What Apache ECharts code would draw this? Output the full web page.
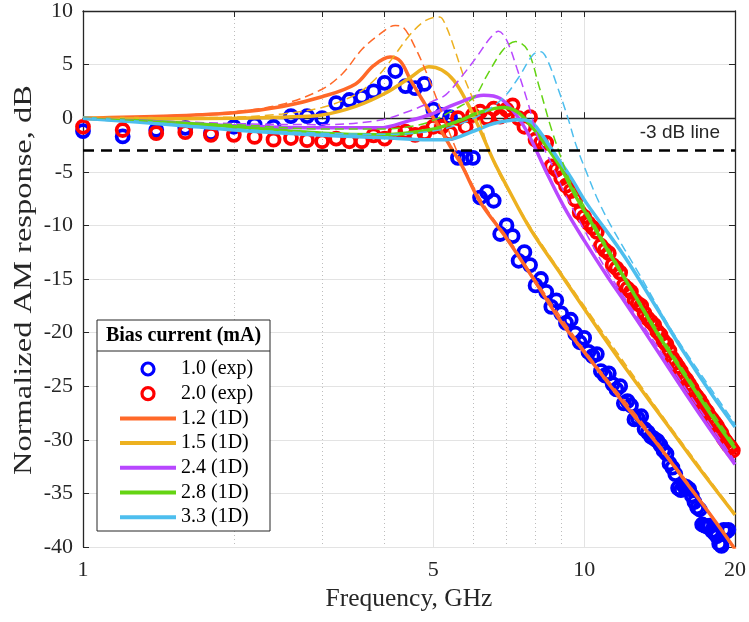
<!DOCTYPE html>
<html>
<head>
<meta charset="utf-8">
<script src="https://cdn.jsdelivr.net/npm/echarts@6/dist/echarts.min.js"></script>
<style>
  html, body { margin: 0; padding: 0; background: #fff; }
  #chart { width: 749px; height: 622px; }
</style>
</head>
<body>
<div id="chart"></div>
<script>
// measured points (GHz), same frequency grid for both bias currents
const expFreq = [
  1.0, 1.2, 1.4, 1.6, 1.8, 2.0, 2.2, 2.4, 2.6, 2.8,
  3.0, 3.2, 3.4, 3.6, 3.8, 4.0, 4.2, 4.4, 4.6, 4.8,
  5.0, 5.2, 5.4, 5.6, 5.8, 6.0, 6.2, 6.4, 6.6, 6.8,
  7.0, 7.2, 7.4, 7.6, 7.8, 8.0, 8.2, 8.4, 8.6, 8.8,
  9.0, 9.2, 9.4, 9.6, 9.8, 10.0, 10.2, 10.4, 10.6, 10.8,
  11.0, 11.2, 11.4, 11.6, 11.8, 12.0, 12.2, 12.4, 12.6, 12.8,
  13.0, 13.2, 13.4, 13.6, 13.8, 14.0, 14.2, 14.4, 14.6, 14.8,
  15.0, 15.2, 15.4, 15.6, 15.8, 16.0, 16.2, 16.4, 16.6, 16.8,
  17.0, 17.2, 17.4, 17.6, 17.8, 18.0, 18.2, 18.4, 18.6, 18.8,
  19.0, 19.2, 19.4, 19.6, 19.8
]
// 1.0 mA (exp)
const exp10 = [
  -1.2, -1.7, -1.1, -0.9, -1.4, -0.8, -0.6, -0.8, 0.2, 0.2,
  0.0, 1.4, 1.7, 2.0, 2.5, 3.3, 4.4, 3.0, 2.8, 3.2,
  0.8, 0.3, 0.1, -3.7, -3.7, -3.7, -7.4, -6.9, -7.7, -10.8,
  -10.0, -11.0, -13.3, -12.5, -13.7, -15.6, -15.0, -16.2, -17.6, -17.0,
  -18.2, -19.1, -18.8, -20.1, -20.9, -20.5, -21.8, -22.2, -22.0, -23.6,
  -24.0, -23.8, -24.8, -25.3, -25.0, -26.6, -26.4, -26.8, -28.1, -28.0,
  -27.8, -29.0, -29.3, -29.7, -29.9, -30.1, -30.5, -31.0, -31.3, -32.2,
  -32.6, -33.2, -34.5, -34.7, -34.3, -34.4, -34.6, -35.2, -35.8, -36.3,
  -36.5, -37.9, -38.0, -38.1, -38.0, -38.5, -38.7, -39.0, -39.7, -39.9,
  -38.4, -38.6, -38.4
]
// 2.0 mA (exp)
const exp20 = [
  -0.8, -1.1, -1.4, -1.3, -1.55, -1.55, -1.75, -2.0, -1.85, -2.05,
  -2.15, -1.9, -2.15, -2.15, -1.6, -1.9, -1.3, -1.25, -1.55, -1.4,
  -0.8, -0.8, -1.4, 0.0, -0.8, 0.3, 0.6, 0.0, 0.9, 0.15,
  0.8, 1.2, 0.0, -0.8, 0.1, -2.0, -2.3, -2.3, -4.5, -4.8,
  -5.6, -6.3, -6.8, -7.6, -8.8, -9.2, -9.8, -10.2, -10.6, -11.9,
  -12.3, -12.6, -13.7, -14.0, -14.4, -15.6, -15.9, -16.2, -17.0, -17.3,
  -17.5, -18.2, -18.7, -19.0, -19.3, -19.9, -20.2, -20.8, -21.1, -21.7,
  -22.4, -22.8, -23.2, -23.6, -24.1, -24.4, -24.8, -25.2, -25.7, -26.0,
  -26.3, -26.7, -27.1, -27.4, -27.8, -28.1, -28.4, -28.7, -29.1, -29.4,
  -29.9, -30.2, -30.5, -30.7, -31.0
]

// 1D model (solid)
const f12 = [1, 1.5, 2, 2.5, 3, 3.5, 3.8, 4.1, 4.3, 4.5, 4.8, 5.1, 5.4, 5.7, 6.2, 7, 8, 9, 10, 11, 12, 14, 16, 18, 20]
const m12 = [0, 0.2, 0.5, 1.1, 2.0, 3.2, 4.9, 5.7, 5.3, 3.6, 1.4, -0.6, -2.6, -4.4, -7.8, -11.2, -15.3, -19.0, -21.8, -24.3, -26.6, -30.4, -34.0, -37.2, -40.2]
const f15 = [1, 1.5, 2, 2.5, 3, 3.5, 4, 4.5, 4.9, 5.2, 5.5, 5.85, 6.2, 6.6, 7, 7.8, 9, 10.6, 12, 14.6, 17, 20]
const m15 = [0, -0.05, 0, 0.1, 0.3, 1.1, 2.3, 3.8, 4.8, 4.5, 3.5, 1.4, -1.1, -4.0, -6.3, -10.3, -14.6, -19.5, -23.1, -28.5, -32.7, -37.0]
const f24 = [1, 1.5, 2, 3, 3.9, 4.5, 4.9, 5.7, 6.3, 6.8, 7.35, 7.8, 8.4, 9.1, 10, 11.1, 12, 14, 16, 18, 20]
const m24 = [0, -0.4, -0.7, -0.9, -0.9, -0.2, 0.3, 1.55, 2.15, 1.85, 0.2, -1.8, -5.0, -8.2, -11.4, -14.7, -17.0, -21.7, -25.8, -29.3, -32.3]
const f28 = [1, 1.5, 2, 3, 3.9, 4.9, 5.7, 6.1, 6.9, 7.35, 7.8, 8.2, 8.95, 9.65, 10, 11.1, 12.5, 14.1, 16, 18, 20]
const m28 = [0, -0.4, -0.8, -1.4, -1.55, -1.1, -0.15, 0.45, 1.0, 0.6, -0.6, -1.9, -4.5, -7.4, -8.6, -12.2, -16.2, -20.3, -24.2, -27.8, -30.8]
const f33 = [1, 1.5, 2, 3, 3.9, 4.9, 5.3, 6.1, 6.6, 7.4, 7.8, 8.2, 8.7, 9.4, 10.1, 12, 14, 15.7, 18, 20]
const m33 = [0, -0.6, -1.1, -1.6, -1.8, -2.0, -2.0, -1.1, -0.5, -0.15, -0.3, -1.4, -3.2, -5.5, -7.9, -12.8, -17.8, -21.6, -25.8, -28.8]

// thin dashed curves (not in legend)
const d12f = [1, 1.5, 2, 2.5, 3, 3.3, 3.6, 3.9, 4.2, 4.35, 4.6, 4.9, 5.25, 5.6, 6.0, 6.5, 7, 8, 10, 14, 20]
const d12 = [0, 0.25, 0.6, 1.3, 2.7, 4.2, 6.4, 7.8, 8.65, 8.5, 6.6, 3.7, 0.0, -3.3, -6.3, -9.0, -11.0, -15.1, -21.6, -30.2, -40.1]
const d15f = [1, 2, 2.5, 3, 3.5, 3.8, 4.1, 4.46, 4.75, 5.0, 5.15, 5.3, 5.5, 5.75, 6.04, 6.45, 6.8, 7.5, 8, 10, 14.6, 20]
const d15 = [0, 0.1, 0.4, 1.0, 2.2, 3.5, 5.3, 7.6, 8.9, 9.4, 9.45, 8.6, 6.6, 3.9, 1.4, -2.9, -5.4, -8.8, -10.9, -17.5, -28.3, -36.9]
const d24f = [1, 2, 3, 3.9, 4.5, 5.0, 5.3, 5.7, 6.1, 6.5, 6.75, 7.0, 7.35, 7.75, 8.1, 8.5, 9.1, 10, 11.1, 14, 20]
const d24 = [0, -0.5, -0.6, -0.2, 0.7, 1.6, 2.2, 3.9, 5.7, 7.5, 8.1, 7.3, 4.6, 1.2, -1.9, -3.7, -6.8, -10.4, -14.2, -21.3, -32.0]
const d28f = [1, 2, 3, 4, 4.6, 5.0, 5.5, 6.04, 6.4, 6.9, 7.3, 7.7, 8.15, 8.55, 8.95, 9.4, 10, 11, 14, 20]
const d28 = [0, -0.6, -1.0, -1.0, -0.7, -0.2, 0.8, 2.0, 4.0, 6.4, 7.15, 6.4, 2.8, -0.6, -3.4, -6.0, -8.2, -11.6, -19.8, -30.5]
const d33f = [1, 2, 3, 4, 5, 5.6, 6.2, 6.9, 7.4, 7.9, 8.2, 8.45, 8.85, 9.27, 9.65, 10.1, 10.6, 11.3, 12.9, 15, 18, 20]
const d33 = [0, -1.0, -1.4, -1.5, -1.2, -0.6, 0.3, 1.9, 3.8, 5.9, 6.2, 5.4, 2.9, 0.1, -2.6, -5.0, -7.4, -10.0, -14.6, -19.9, -25.4, -28.5]

const majorTicks = [1, 5, 10, 20]
const minorTicks = [2, 3, 4, 6, 7, 8, 9]
const allTicks = [1, 2, 3, 4, 5, 6, 7, 8, 9, 10, 20]
const refLevel = -3

const serif = 'Liberation Serif'
const axisColor = '#262626'
const lineIcon = 'path://M0,0H56V4H0Z'

function pairs(xs, ys) {
  return xs.slice(0, ys.length).map((x, i) => [x, ys[i]])
}

function expSeries(name, f, v, color) {
  return {
    name: name,
    type: 'scatter',
    data: pairs(f, v),
    symbol: 'circle',
    symbolSize: 12,
    itemStyle: { color: 'rgba(0,0,0,0)', borderColor: color, borderWidth: 3.8, opacity: 1 },
    emphasis: { disabled: true },
    z: 2
  }
}

function fitSeries(name, f, v, color) {
  return {
    name: name,
    type: 'line',
    data: pairs(f, v),
    showSymbol: false,
    symbol: 'none',
    smooth: 0.35,
    lineStyle: { color: color, width: 3.5 },
    itemStyle: { color: color },
    emphasis: { disabled: true },
    z: 3
  }
}

function dashSeries(name, f, v, color) {
  return {
    name: name,
    type: 'line',
    data: pairs(f, v),
    showSymbol: false,
    symbol: 'none',
    smooth: 0.35,
    lineStyle: { color: color, width: 1.5, type: [9, 5] },
    emphasis: { disabled: true },
    z: 4
  }
}

const chart = echarts.init(document.getElementById('chart'))

const blue = expSeries('1.0 (exp)', expFreq, exp10, '#0000ff')
blue.markLine = {
  silent: true,
  symbol: 'none',
  data: [{ yAxis: refLevel }],
  lineStyle: { color: '#000', width: 2.5, type: [11, 7] },
  label: {
    show: true,
    position: 'insideEndTop',
    formatter: '-3 dB line',
    fontFamily: 'Liberation Sans',
    fontSize: 19,
    color: '#262626',
    distance: [15, 8]
  }
}

chart.setOption({
  animation: false,
  backgroundColor: '#fff',
  grid: { left: 83, right: 10, top: 7, bottom: 75 },
  graphic: [
    { type: 'text', x: 24, y: 280, rotation: Math.PI / 2, scaleX: 1.3,
      style: { text: 'Normalized AM response, dB', fontFamily: serif, fontSize: 25,
        fill: axisColor, align: 'center', verticalAlign: 'middle' }, z: 1 },
    { type: 'rect', shape: { x: 97, y: 320, width: 173, height: 211 },
      style: { fill: '#fff', stroke: axisColor, lineWidth: 1 }, z: 10 },
    { type: 'line', shape: { x1: 97, y1: 351, x2: 270, y2: 351 },
      style: { stroke: axisColor, lineWidth: 1 }, z: 11 },
    { type: 'text', x: 183.5, y: 336,
      style: { text: 'Bias current (mA)', fontFamily: serif, fontSize: 20, fontWeight: 'bold',
        fill: '#000', align: 'center', verticalAlign: 'middle' }, z: 11 }
  ],
  legend: {
    data: [
      { name: '1.0 (exp)', itemStyle: { borderWidth: 3.2 } },
      { name: '2.0 (exp)', itemStyle: { borderWidth: 3.2 } },
      { name: '1.2 (1D)', icon: lineIcon },
      { name: '1.5 (1D)', icon: lineIcon },
      { name: '2.4 (1D)', icon: lineIcon },
      { name: '2.8 (1D)', icon: lineIcon },
      { name: '3.3 (1D)', icon: lineIcon }
    ],
    orient: 'vertical',
    left: 115,
    top: 354,
    itemWidth: 56,
    itemHeight: 12,
    itemGap: 4.7,
    selectedMode: false,
    z: 12,
    textStyle: { fontFamily: serif, fontSize: 20, color: '#000', lineHeight: 20 }
  },
  xAxis: [
    {
      type: 'log', min: 1, max: 20, position: 'bottom',
      name: 'Frequency, GHz', nameLocation: 'middle', nameGap: 38,
      nameTextStyle: { fontFamily: serif, fontSize: 25.5, color: axisColor },
      axisLine: { show: true, lineStyle: { color: axisColor, width: 1.3 } },
      axisTick: { show: true, inside: true, length: 6, customValues: allTicks, lineStyle: { color: axisColor } },
      axisLabel: { customValues: majorTicks, fontFamily: serif, fontSize: 22, color: axisColor, margin: 12,
        formatter: v => String(Math.round(v)) },
      splitLine: { show: false },
      minorTick: { show: false }
    },
    {
      type: 'log', min: 1, max: 20, position: 'bottom',
      axisLine: { show: false }, axisLabel: { show: false },
      axisTick: { show: false, customValues: majorTicks },
      splitLine: { show: true, lineStyle: { color: '#e3e3e3', width: 1 } }
    },
    {
      type: 'log', min: 1, max: 20, position: 'bottom',
      axisLine: { show: false }, axisLabel: { show: false },
      axisTick: { show: false, customValues: minorTicks },
      splitLine: { show: true, lineStyle: { color: '#bdbdbd', width: 1, type: [1, 3] } }
    },
    {
      type: 'log', min: 1, max: 20, position: 'top',
      axisLine: { show: true, lineStyle: { color: axisColor, width: 1.3 } },
      axisTick: { show: true, inside: true, length: 6, customValues: allTicks, lineStyle: { color: axisColor } },
      axisLabel: { show: false },
      splitLine: { show: false }
    }
  ],
  yAxis: [
    {
      type: 'value', min: -40, max: 10, interval: 5,
      axisLine: { show: true, lineStyle: { color: axisColor, width: 1.3 } },
      axisTick: { show: true, inside: true, length: 6, lineStyle: { color: axisColor } },
      axisLabel: { fontFamily: serif, fontSize: 22, color: axisColor, margin: 10 },
      splitLine: { show: true, lineStyle: { color: '#e3e3e3', width: 1 } }
    },
    {
      type: 'value', min: -40, max: 10, interval: 5, position: 'right',
      axisLine: { show: true, lineStyle: { color: axisColor, width: 1.3 } },
      axisTick: { show: true, inside: true, length: 6, lineStyle: { color: axisColor } },
      axisLabel: { show: false },
      splitLine: { show: false }
    }
  ],
  series: [
    blue,
    expSeries('2.0 (exp)', expFreq, exp20, '#ff0000'),
    fitSeries('1.2 (1D)', f12, m12, '#ff6929'),
    fitSeries('1.5 (1D)', f15, m15, '#edb120'),
    fitSeries('2.4 (1D)', f24, m24, '#b847ff'),
    fitSeries('2.8 (1D)', f28, m28, '#64d413'),
    fitSeries('3.3 (1D)', f33, m33, '#4dbeee'),
    dashSeries('1.2 dashed', d12f, d12, '#ff6929'),
    dashSeries('1.5 dashed', d15f, d15, '#edb120'),
    dashSeries('2.4 dashed', d24f, d24, '#b847ff'),
    dashSeries('2.8 dashed', d28f, d28, '#64d413'),
    dashSeries('3.3 dashed', d33f, d33, '#4dbeee')
  ]
})
</script>
</body>
</html>
